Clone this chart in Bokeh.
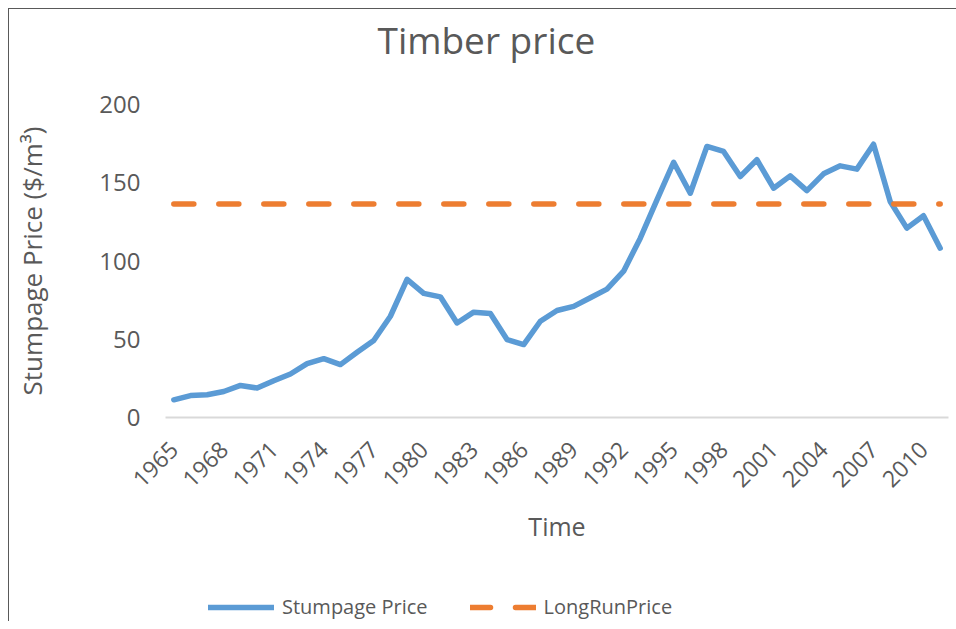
import math
from bokeh.plotting import figure
from bokeh.layouts import column
from bokeh.models import Range1d, FixedTicker, Legend, LegendItem, Label
from bokeh.embed import file_html
from bokeh.resources import INLINE

# ---- data ----
years = list(range(1965, 2012))
stumpage_price = [
    11.3, 14.0, 14.5, 16.6, 20.5, 18.8, 23.5, 27.8, 34.4, 37.6,
    33.8, 41.7, 49.2, 64.7, 88.3, 79.3, 77.1, 60.4, 67.3, 66.5,
    49.8, 46.6, 61.5, 68.4, 71.0, 76.5, 82.0, 93.5, 114.6, 139.0,
    163.1, 143.3, 173.2, 170.0, 154.0, 164.7, 146.5, 154.4, 145.0, 155.7,
    160.8, 158.7, 174.6, 138.0, 121.0, 128.9, 108.2,
]
long_run_value = 136.5
long_run_price = [long_run_value] * len(years)
x_tick_years = [1965, 1968, 1971, 1974, 1977, 1980, 1983, 1986,
                1989, 1992, 1995, 1998, 2001, 2004, 2007, 2010]
y_ticks = [0, 50, 100, 150, 200]
chart_title = "Timber price"

FONT = "Open Sans"
TEXT = "#595959"
BLUE = "#5B9BD5"
ORANGE = "#ED7D31"
LW = 5.5
DASH = "20 25"
W = 947


def bare(fig):
    fig.outline_line_color = None
    fig.xgrid.visible = False
    fig.ygrid.visible = False
    fig.background_fill_color = "white"
    fig.border_fill_color = "white"


# ---- title strip ----
tf = figure(width=W, height=60, output_backend="svg", toolbar_location=None,
            x_range=Range1d(0, 1), y_range=Range1d(0, 1),
            x_axis_location=None, y_axis_location=None, min_border=0)
bare(tf)
tf.add_layout(Label(x=212, y=30, x_units="screen", y_units="screen",
                    text=chart_title, text_font=FONT, text_font_size="37px",
                    text_color=TEXT, text_align="left",
                    text_baseline="alphabetic"))

# ---- main chart ----
p = figure(width=W, height=488, output_backend="svg", toolbar_location=None,
           x_range=Range1d(1964.5, 2011.5), y_range=Range1d(0, 200),
           min_border_left=156, min_border_right=8, min_border_top=35,
           min_border_bottom=140)
bare(p)

xa = p.xaxis[0]
xa.ticker = FixedTicker(ticks=x_tick_years)
xa.major_label_orientation = math.pi / 4
xa.major_tick_line_color = None
xa.minor_tick_line_color = None
xa.major_tick_out = 0
xa.major_tick_in = 0
xa.axis_line_color = "#d9d9d9"
xa.axis_line_width = 2
xa.major_label_text_font = FONT
xa.major_label_text_font_size = "23px"
xa.major_label_text_color = TEXT
xa.major_label_standoff = 28
xa.axis_label = "Time"
xa.axis_label_text_font = FONT
xa.axis_label_text_font_size = "25px"
xa.axis_label_text_font_style = "normal"
xa.axis_label_text_color = TEXT
xa.axis_label_standoff = 11

ya = p.yaxis[0]
ya.ticker = FixedTicker(ticks=y_ticks)
ya.major_tick_line_color = None
ya.minor_tick_line_color = None
ya.major_tick_out = 0
ya.major_tick_in = 0
ya.axis_line_color = None
ya.major_label_text_font = FONT
ya.major_label_text_font_size = "24px"
ya.major_label_text_color = TEXT
ya.major_label_standoff = 25
ya.axis_label = "Stumpage Price ($/m³)"
ya.axis_label_text_font = FONT
ya.axis_label_text_font_size = "26px"
ya.axis_label_text_font_style = "normal"
ya.axis_label_text_color = TEXT
ya.axis_label_standoff = 46

p.line(years, stumpage_price, line_color=BLUE, line_width=LW,
       line_join="round", line_cap="round")
p.line(years, long_run_price, line_color=ORANGE, line_width=LW,
       line_dash=DASH, line_cap="round")

# ---- legend strip below the chart ----
lf = figure(width=W, height=64, output_backend="svg", toolbar_location=None,
            x_range=Range1d(0, 1), y_range=Range1d(0, 1),
            x_axis_location=None, y_axis_location=None, min_border=0)
bare(lf)
# legend keys reuse the series (they fall outside this strip's ranges)
k_stump = lf.line(years, stumpage_price, line_color=BLUE, line_width=LW,
                  line_cap="round")
k_long = lf.line(years, long_run_price, line_color=ORANGE, line_width=LW,
                 line_dash=DASH, line_cap="round")
legend = Legend(items=[LegendItem(label="Stumpage Price", renderers=[k_stump]),
                       LegendItem(label="LongRunPrice", renderers=[k_long])],
                orientation="horizontal", location=(43, 1),
                glyph_width=66, glyph_height=20, label_height=20,
                label_standoff=8, spacing=42, padding=0, margin=0,
                border_line_color=None, background_fill_alpha=0,
                label_text_font=FONT, label_text_font_size="20px",
                label_text_color=TEXT)
lf.add_layout(legend, "center")

layout = column(tf, p, lf, spacing=0)
layout.styles = {"margin-left": "8px", "margin-top": "8px",
                 "border-left": "1px solid #595959", "border-top": "1px solid #595959",
                 "border-right": "0px none", "border-bottom": "0px none"}

open("out.html", "w").write(file_html(layout, INLINE))
